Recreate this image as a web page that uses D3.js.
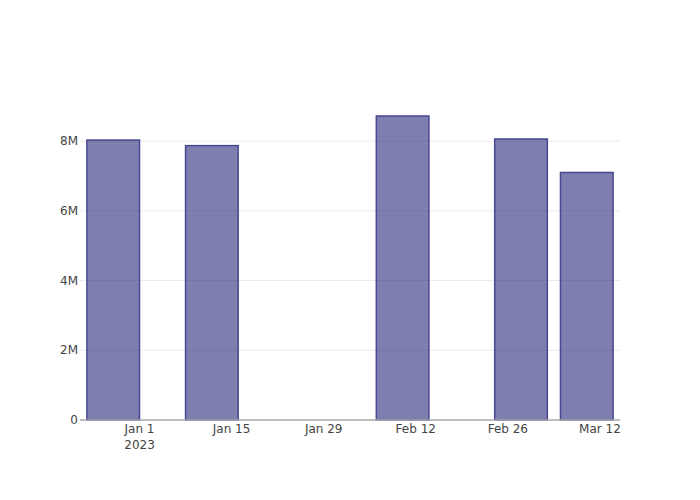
<!DOCTYPE html>
<html>
<head>
<meta charset="utf-8">
<script src="https://cdn.jsdelivr.net/npm/d3@7"></script>
<style>
  html, body { margin: 0; padding: 0; background: #fff; }
  svg { display: block; }
  text { font-family: "DejaVu Sans", sans-serif; font-size: 12px; fill: #444; }
</style>
</head>
<body>
<script>
// ---- data ----
const dates = ["2022-12-28", "2023-01-12", "2023-02-10", "2023-02-28", "2023-03-10"];
const values = [8.03e6, 7.87e6, 8.72e6, 8.06e6, 7.10e6];
const xTickDates = ["2023-01-01", "2023-01-15", "2023-01-29", "2023-02-12", "2023-02-26", "2023-03-12"];
const xTickLabels = ["Jan 1\n2023", "Jan 15", "Jan 29", "Feb 12", "Feb 26", "Mar 12"];
const yTicks = [0, 2e6, 4e6, 6e6, 8e6];
const yTickLabels = ["0", "2M", "4M", "6M", "8M"];

// ---- layout ----
const W = 700, H = 500;
const margin = { l: 80, r: 80, t: 100, b: 80 };
const DAY = 864e5;
const parse = d3.utcParse("%Y-%m-%d");
const dts = dates.map(parse);

const barDays = 8;     // 0.8 * min spacing (10 days)
const padDays = 1.05;

const x = d3.scaleUtc()
  .domain([new Date(d3.min(dts) - (barDays / 2 + padDays) * DAY),
           new Date(+d3.max(dts) + (barDays / 2 + padDays) * DAY)])
  .range([margin.l, W - margin.r]);

const y = d3.scaleLinear()
  .domain([0, d3.max(values) * 1.0526])
  .range([H - margin.b, margin.t]);

const svg = d3.select("body").append("svg").attr("width", W).attr("height", H);

// gridlines
svg.append("g").selectAll("line")
  .data(yTicks.filter(v => v !== 0))
  .join("line")
  .attr("x1", margin.l).attr("x2", W - margin.r)
  .attr("y1", d => y(d)).attr("y2", d => y(d))
  .attr("stroke", "#ebebeb").attr("stroke-width", 1);

// bars
svg.append("g").selectAll("rect")
  .data(dts.map((d, i) => ({ d, v: values[i] })))
  .join("rect")
  .attr("x", p => x(new Date(+p.d - barDays / 2 * DAY)))
  .attr("width", p => x(new Date(+p.d + barDays / 2 * DAY)) - x(new Date(+p.d - barDays / 2 * DAY)))
  .attr("y", p => y(p.v))
  .attr("height", p => y(0) - y(p.v))
  .attr("fill", "rgb(40,40,122)")
  .attr("fill-opacity", 0.6)
  .attr("stroke", "rgb(72,72,148)")
  .attr("stroke-width", 1.5);

// x axis line
svg.append("line")
  .attr("x1", margin.l).attr("x2", W - margin.r)
  .attr("y1", y(0)).attr("y2", y(0))
  .attr("stroke", "#a8a8a8").attr("stroke-width", 1.5);

// y tick labels
svg.append("g").selectAll("text")
  .data(yTicks)
  .join("text")
  .attr("x", margin.l - 2)
  .attr("y", d => y(d) + 4)
  .attr("text-anchor", "end")
  .text((d, i) => yTickLabels[i]);

// x tick labels
const xt = svg.append("g").selectAll("text")
  .data(xTickDates.map(parse))
  .join("text")
  .attr("text-anchor", "middle")
  .attr("x", d => x(d))
  .attr("y", y(0) + 13);
xt.each(function (d, i) {
  const lines = xTickLabels[i].split("\n");
  d3.select(this).selectAll("tspan").data(lines).join("tspan")
    .attr("x", x(d))
    .attr("dy", (l, j) => j === 0 ? 0 : 15.5)
    .text(l => l);
});
</script>
</body>
</html>
